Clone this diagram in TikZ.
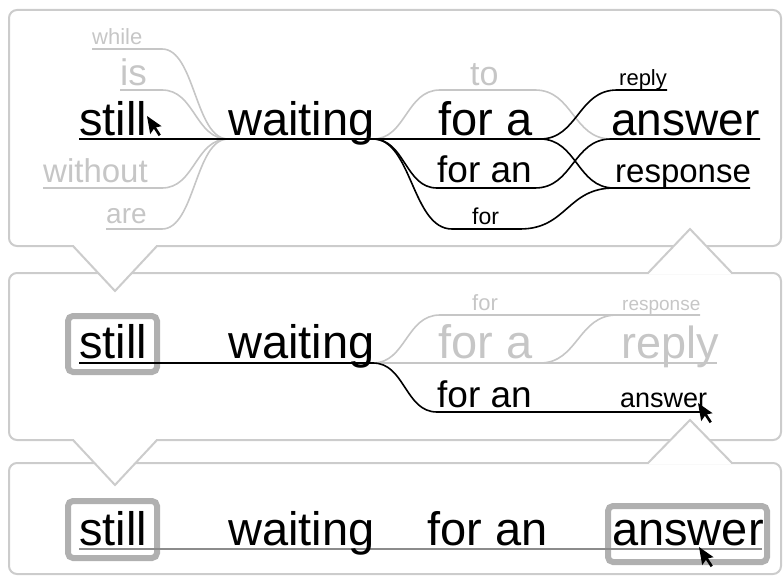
\documentclass[tikz,border=0pt]{standalone}
\usepackage{fontspec}
\setmainfont{Liberation Sans}
\definecolor{panelc}{RGB}{204,204,204}
\definecolor{ghost}{RGB}{198,198,198}
\definecolor{hl}{RGB}{176,176,176}
\definecolor{ulc}{RGB}{140,140,140}
\newcommand\fsz[1]{\fontsize{#1bp}{#1bp}\selectfont}
\begin{document}
\begin{tikzpicture}[x=1bp,y=-1bp,
  word/.style={anchor=base west,inner sep=0pt,font=\fsz{#1}},
  ghostword/.style={word=#1,text=ghost},
  panel/.style={draw=panelc,line width=2bp,rounded corners=8bp},
  pointer/.style={draw=panelc,line width=2bp,line join=miter},
  live/.style={draw=black,line width=1.6bp},
  dead/.style={draw=ghost,line width=1.6bp},
  hlbox/.style={draw=hl,line width=6bp,rounded corners=5bp},
  cursorpic/.pic={\fill[black] (0,0) -- (3.2,18.1) -- (6.9,12.8) -- (11.7,20.1) -- (13.8,18.6) -- (9.0,11.3) -- (14.6,10.2) -- cycle;}
]
\useasboundingbox (0,0) rectangle (783,576);

% ---------- panels ----------
\draw[panel] (9,10) rectangle (781,246);
\draw[panel] (9,273) rectangle (781,440);
\draw[panel] (9,463) rectangle (781,574);

% pointer interiors
\fill[white] (73,246) -- (115,291) -- (157,246) -- cycle;
\fill[white] (74,244.6) rectangle (156,247.4);
\fill[white] (648,273) -- (690,229) -- (732,273) -- cycle;
\fill[white] (649,271.6) rectangle (731,274.4);
\fill[white] (73,440) -- (115,485) -- (157,440) -- cycle;
\fill[white] (74,438.6) rectangle (156,441.4);
\fill[white] (648,463) -- (690,420) -- (732,463) -- cycle;
\fill[white] (649,461.6) rectangle (731,464.4);

% pointer outlines
\coordinate (p1a) at (73,246);  \coordinate (p1t) at (115,291); \coordinate (p1b) at (157,246);
\coordinate (p2a) at (648,273); \coordinate (p2t) at (690,229); \coordinate (p2b) at (732,273);
\coordinate (p3a) at (73,440);  \coordinate (p3t) at (115,485); \coordinate (p3b) at (157,440);
\coordinate (p4a) at (648,463); \coordinate (p4t) at (690,420); \coordinate (p4b) at (732,463);
\draw[pointer] (p1a) -- (p1t) -- (p1b);
\draw[pointer] (p2a) -- (p2t) -- (p2b);
\draw[pointer] (p3a) -- (p3t) -- (p3b);
\draw[pointer] (p4a) -- (p4t) -- (p4b);

% ---------- top panel ----------
\coordinate (wl) at (228,139);
\coordinate (wr) at (373,139);
\coordinate (fa) at (540,139);
\draw[dead] (92,49) -- (162,49) .. controls (195,49) and (195,139) .. (wl);
\draw[dead] (120,90) -- (162,90) .. controls (195,90) and (195,139) .. (wl);
\draw[dead] (43,188) -- (162,188) .. controls (195,188) and (195,139) .. (wl);
\draw[dead] (106,229) -- (162,229) .. controls (195,229) and (195,139) .. (wl);
\draw[dead] (wr) .. controls (406,139) and (406,90) .. (440,90) -- (535,90) .. controls (573,90) and (573,139) .. (611,139);

\draw[live] (79,139) -- (fa);
\draw[live] (fa) .. controls (578,139) and (578,90) .. (617,90) -- (667,90);
\draw[live] (fa) .. controls (577,139) and (577,188) .. (614,188) -- (750,188);
\draw[live] (wr) .. controls (405,139) and (405,188) .. (437,188) -- (535,188) .. controls (573,188) and (573,139) .. (611,139) -- (760,139);
\draw[live] (wr) .. controls (412,139) and (412,229) .. (452,229) -- (520,229) .. controls (567,229) and (567,188) .. (614,188);

\node[ghostword=22] (t-while) at (92,45) {while};
\node[ghostword=37] (t-is) at (120,86) {is};
\node[word=47] (t-still) at (79,136) {still};
\node[ghostword=33] (t-without) at (43,183) {without};
\node[ghostword=28] (t-are) at (106,224) {are};
\node[word=47] (t-waiting) at (228,136) {waiting};
\node[ghostword=34] (t-to) at (470,86) {to};
\node[word=47] (t-fora) at (438,136) {for a};
\node[word=37] (t-foran) at (437,183) {for an};
\node[word=23] (t-for) at (472,225) {for};
\node[word=22] (t-reply) at (619,86) {reply};
\node[word=46] (t-answer) at (611,136) {answer};
\node[word=33] (t-response) at (615,183) {response};
\pic at (147,116) {cursorpic};

% ---------- middle panel ----------
\draw[hlbox] (68,316) rectangle (157,372);
\coordinate (mwr) at (373,363);
\coordinate (mfa) at (540,363);
\draw[dead] (mwr) .. controls (406,363) and (406,315) .. (440,315) -- (700,315);
\draw[dead] (mwr) -- (717,363);
\draw[dead] (mfa) .. controls (578,363) and (578,315) .. (617,315);
\draw[live] (79,363) -- (mwr) .. controls (405,363) and (405,412) .. (437,412) -- (705,412);

\node[word=47] (m-still) at (79,358) {still};
\node[word=47] (m-waiting) at (228,358) {waiting};
\node[ghostword=22] (m-for) at (472,310) {for};
\node[ghostword=19] (m-response) at (622,310) {response};
\node[ghostword=47] (m-fora) at (438,358) {for a};
\node[ghostword=45] (m-reply) at (621,358) {reply};
\node[word=37] (m-foran) at (437,407) {for an};
\node[word=27] (m-answer) at (620,407) {answer};
\pic at (698,403) {cursorpic};

% ---------- bottom panel ----------
\draw[hlbox] (68,501) rectangle (157,558);
\draw[hlbox] (608,506) rectangle (767,562);
\draw[draw=ulc,line width=1.6bp] (79,549) -- (762,549);
\node[word=47] (b-still) at (79,545) {still};
\node[word=47] (b-waiting) at (228,545) {waiting};
\node[word=47] (b-foran) at (427,545) {for an};
\node[word=47] (b-answer) at (612,545) {answer};
\pic at (699,547) {cursorpic};
\end{tikzpicture}
\end{document}
